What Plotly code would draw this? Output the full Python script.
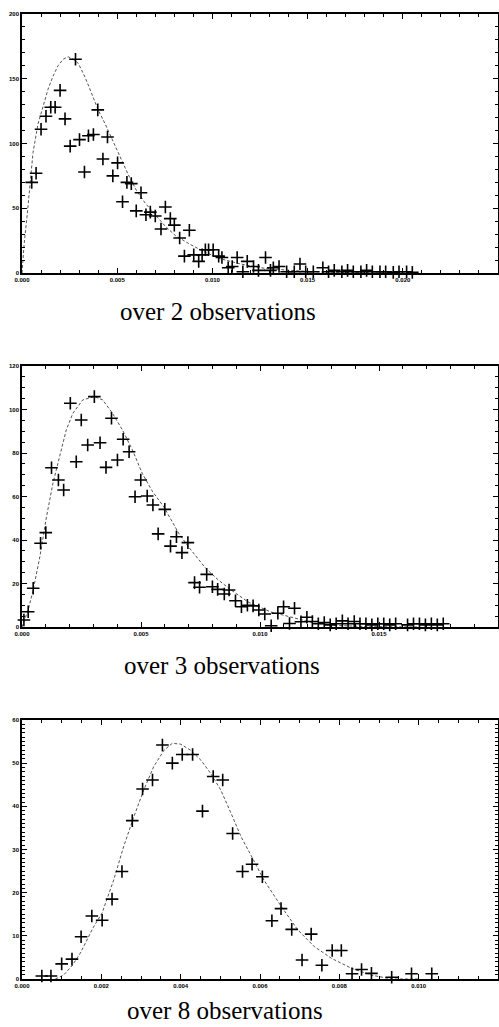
import plotly.graph_objects as go

# ---------------- data (x in units of 0.001) ----------------
# Panel 1: over 2 observations
p1_x = [0.51, 0.74, 1.0, 1.26, 1.51, 1.74, 2.0, 2.26, 2.53, 2.81, 3.02, 3.28, 3.49, 3.75, 3.98,
        4.25, 4.49, 4.77, 5.02, 5.28, 5.51, 5.74, 6.0, 6.25, 6.51, 6.74, 7.0, 7.3, 7.53, 7.79,
        8.0, 8.28, 8.53, 8.79, 9.02, 9.28, 9.46, 9.63, 9.8, 10.04, 10.33, 10.5, 10.83, 11.04,
        11.3, 11.6, 11.83, 12.16, 12.42, 12.79, 13.05, 13.2, 13.5, 13.9, 14.3, 14.6, 14.9, 15.3,
        15.8, 16.1, 16.4, 16.8, 17.1, 17.4, 17.8, 18.1, 18.4, 18.8, 19.1, 19.5, 19.8, 20.2, 20.5]
p1_y = [70, 77, 111, 121, 128, 128, 141, 119, 98, 165, 103, 78, 106, 107, 126,
        88, 105, 75, 85, 55, 70, 69, 48, 62, 45, 47, 44, 34, 51, 42,
        37, 27, 13, 33, 14, 9, 14, 18, 18, 18, 13, 12, 4, 5,
        12, 1, 9, 5, 2, 12, 2, 4, 5, 1, 1, 7, 1, 1,
        4, 1, 2, 1, 2, 1, 1, 2, 1, 1, 1, 0.5, 1, 1, 0.5]
p1_cx = [0, 0.11, 0.26, 0.58, 0.84, 1.11, 1.37, 1.63, 1.89, 2.16, 2.42, 2.68, 2.95, 3.32, 3.68,
         4.0, 4.37, 4.74, 5.16, 5.58, 6.0, 6.47, 7.0, 7.53, 8.05, 8.84, 9.63, 10.42, 11.47,
         12.53, 14.1, 15.7, 17.8, 20.4]
p1_cy = [0, 22, 43, 93, 115, 129, 142, 152, 160, 165, 167, 165, 162, 151, 138,
         126, 115, 103, 89, 76, 64, 54, 45, 36, 29, 22, 16, 11, 7,
         4, 2, 0.8, 0.2, 0]

# Panel 2: over 3 observations
p2_x = [0.08, 0.26, 0.47, 0.78, 1.0, 1.24, 1.53, 1.75, 2.03, 2.28, 2.49, 2.76, 3.04, 3.28, 3.53,
        3.76, 4.01, 4.25, 4.5, 4.75, 4.99, 5.26, 5.5, 5.72, 6.0, 6.24, 6.49, 6.72, 6.97, 7.25,
        7.46, 7.76, 8.0, 8.22, 8.5, 8.7, 8.97, 9.22, 9.47, 9.71, 9.95, 10.2, 10.47, 10.75, 10.99,
        11.24, 11.45, 11.72, 11.97, 12.2, 12.45, 12.7, 12.95, 13.2, 13.46, 13.7, 13.96, 14.2,
        14.45, 14.7, 14.95, 15.2, 15.45, 15.7, 16.2, 16.45, 16.7, 16.95, 17.2, 17.45, 17.7]
p2_y = [3.2, 7, 17.8, 38.5, 43.4, 73.2, 67.6, 63, 102.9, 76, 95.2, 83.7, 105.9, 84.7, 73.4,
        96, 76.8, 86.3, 80.6, 59.9, 67.6, 60.2, 56.1, 42.8, 54.1, 37.2, 41.5, 34.2, 38.8, 20.4,
        18.3, 24.2, 18.5, 17.3, 15.2, 17, 12.1, 9.3, 10, 9.7, 7.8, 6, 0.6, 6.3, 9.3,
        1.6, 8.6, 2.4, 4.5, 2.5, 1.5, 2, 1, 1.5, 2.8, 1.5, 2.5, 1.5,
        1.5, 1, 1.5, 1.5, 1, 1.5, 1, 1.5, 1.5, 1, 1.5, 1, 1.5]
p2_cx = [0, 0.05, 0.26, 0.47, 0.75, 1.03, 1.3, 1.58, 1.86, 2.14, 2.55, 3.04, 3.39, 3.8, 4.22,
         4.64, 5.05, 5.47, 5.96, 6.58, 7.0, 7.71, 8.25, 8.79, 9.5, 10.46, 11.46, 12.29, 13.25,
         14.5, 16.6]
p2_cy = [0, 1.7, 7.8, 17, 32.3, 50.7, 66.1, 78.3, 90.6, 98.3, 104.4, 105.9, 104.4, 98.3, 90.6,
         81.4, 70.7, 62.5, 55.2, 43.2, 36.8, 27.1, 21.6, 17, 11.5, 6.9, 4.1, 1.8, 0.7,
         0.2, 0]

# Panel 3: over 8 observations
p3_x = [0.5, 0.73, 1.0, 1.26, 1.49, 1.76, 2.02, 2.27, 2.52, 2.78, 3.04, 3.29, 3.54, 3.79, 4.04,
        4.3, 4.55, 4.82, 5.06, 5.31, 5.56, 5.8, 6.06, 6.3, 6.53, 6.8, 7.06, 7.29, 7.56, 7.82,
        8.05, 8.32, 8.56, 8.81, 9.32, 9.82, 10.33]
p3_y = [0.7, 0.7, 3.5, 4.6, 9.8, 14.6, 13.6, 18.5, 24.9, 36.7, 44, 46.1, 54.2, 50, 52,
        52, 38.9, 46.9, 46.1, 33.7, 24.9, 26.6, 23.7, 13.5, 16.3, 11.5, 4.4, 10.4, 3.2, 6.6,
        6.6, 1.2, 2.2, 1.3, 0.4, 1.2, 1.2]
p3_cx = [0.84, 1.05, 1.27, 1.47, 1.8, 2.02, 2.31, 2.56, 2.82, 3.07, 3.32, 3.58, 3.79, 4.0, 4.25,
         4.51, 4.76, 5.01, 5.27, 5.52, 5.77, 6.1, 6.53, 6.95, 7.37, 7.8, 8.3, 8.81, 9.32, 10.0]
p3_cy = [0, 0.9, 3.2, 6, 12, 15.3, 22.9, 30.6, 37.6, 43.8, 49.2, 53, 54.6, 54.4, 53,
         50.7, 47.6, 43.8, 38.4, 33, 28.7, 22.9, 16.9, 11.4, 7.5, 4.8, 2.5, 0.9, 0, 0]

captions = ["over 2 observations", "over 3 observations", "over 8 observations"]

# tick labels
p1_xticks = [0, 5, 10, 15, 20, 25]
p1_xtext = ["0.000", "0.005", "0.010", "0.015", "0.020", "0.025"]
p2_xticks = [0, 5, 10, 15, 20]
p2_xtext = ["0.000", "0.005", "0.010", "0.015", "0.020"]
p3_xticks = [0, 2, 4, 6, 8, 10, 12]
p3_xtext = ["0.000", "0.002", "0.004", "0.006", "0.008", "0.010", "0.012"]

# ---------------- figure ----------------
W, H = 499, 1027
fig = go.Figure()

panels = [
    dict(x=p1_x, y=p1_y, cx=p1_cx, cy=p1_cy, xr=[0, 25], yr=[0, 200], xt=p1_xticks, xtt=p1_xtext,
         ydt=50, ymin=10, xmin=1, top=14, bot=273, cap_x=218, cap_y=311),
    dict(x=p2_x, y=p2_y, cx=p2_cx, cy=p2_cy, xr=[0, 20], yr=[0, 120], xt=p2_xticks, xtt=p2_xtext,
         ydt=20, ymin=5, xmin=1, top=366, bot=627, cap_x=222, cap_y=665),
    dict(x=p3_x, y=p3_y, cx=p3_cx, cy=p3_cy, xr=[0, 12], yr=[0, 60], xt=p3_xticks, xtt=p3_xtext,
         ydt=10, ymin=1, xmin=0.5, top=720, bot=979, cap_x=225, cap_y=1010),
]

left_px, right_px = 22, 498
tickfont = dict(family="Liberation Sans", size=6, color="black", weight="bold")

for i, p in enumerate(panels):
    n = i + 1
    xa = "x" if n == 1 else f"x{n}"
    ya = "y" if n == 1 else f"y{n}"
    fig.add_trace(go.Scatter(x=p["cx"], y=p["cy"], xaxis=xa, yaxis=ya, mode="lines",
                             line=dict(color="#555555", width=1, dash="3px,2px"),
                             showlegend=False, hoverinfo="skip"))
    fig.add_trace(go.Scatter(x=p["x"], y=p["y"], xaxis=xa, yaxis=ya, mode="markers",
                             marker=dict(symbol="cross-thin", size=9,
                                         line=dict(color="black", width=1.6)),
                             cliponaxis=False, showlegend=False))
    axcommon = dict(showline=True, linecolor="black", linewidth=1.5, mirror="allticks",
                    ticks="inside", ticklen=5, tickwidth=1.2, tickcolor="black",
                    showgrid=False, zeroline=False, tickfont=tickfont, automargin=False)
    xkey = "xaxis" if n == 1 else f"xaxis{n}"
    ykey = "yaxis" if n == 1 else f"yaxis{n}"
    fig.update_layout(**{
        xkey: dict(domain=[left_px / W, right_px / W], anchor=ya, range=p["xr"],
                   tickvals=p["xt"], ticktext=p["xtt"],
                   minor=dict(dtick=p["xmin"], tick0=0, ticks="inside", ticklen=3,
                              tickwidth=1, tickcolor="black"),
                   **axcommon),
        ykey: dict(domain=[1 - p["bot"] / H, 1 - p["top"] / H], anchor=xa, range=p["yr"],
                   dtick=p["ydt"], tick0=0,
                   minor=dict(dtick=p["ymin"], tick0=0, ticks="inside", ticklen=3,
                              tickwidth=1, tickcolor="black"),
                   **axcommon),
    })
    fig.add_annotation(text=captions[i], xref="paper", yref="paper",
                       x=p["cap_x"] / W, y=1 - p["cap_y"] / H, xanchor="center", yanchor="middle",
                       showarrow=False,
                       font=dict(family="Liberation Serif", size=25, color="black"))

fig.update_layout(width=W, height=H, margin=dict(l=0, r=0, t=0, b=0, autoexpand=False),
                  paper_bgcolor="white", plot_bgcolor="white")

fig.write_html("out.html", config={"displayModeBar": False},
               post_script="document.body.style.margin='0';document.body.style.overflow='hidden';")
